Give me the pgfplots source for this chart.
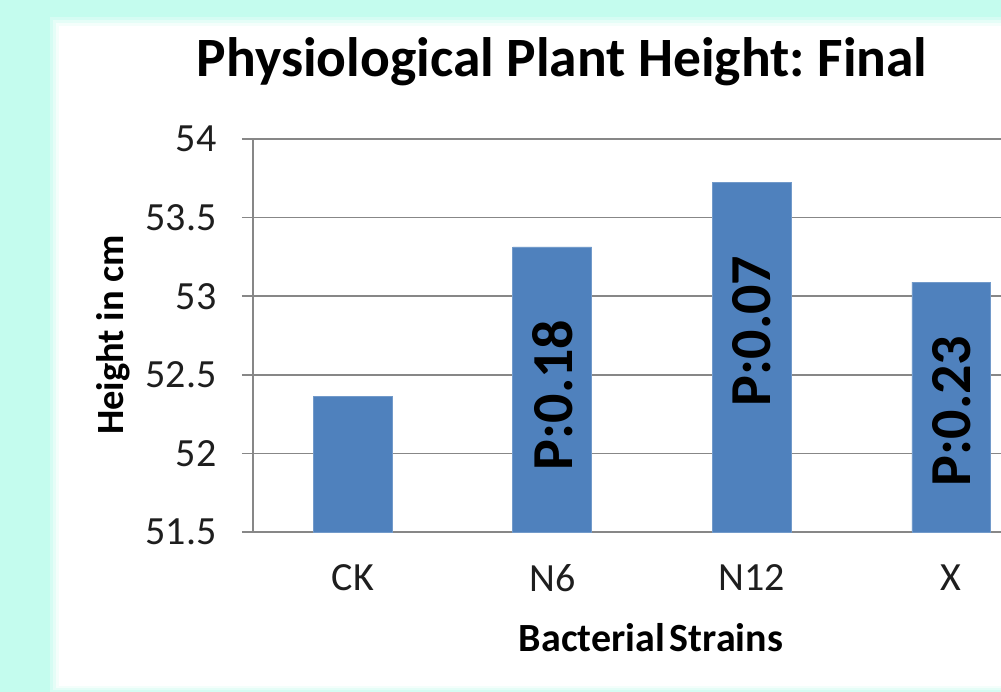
\documentclass[border=0pt]{standalone}
\usepackage{pgfplots}
\pgfplotsset{compat=1.18}
\usepackage{fontspec}
\setmainfont{Carlito}
\frenchspacing
\definecolor{bgcyan}{HTML}{C4FCEE}
\definecolor{barblue}{HTML}{4F81BD}
\definecolor{gridgray}{HTML}{878787}
\definecolor{txt}{HTML}{1E1E1E}
\begin{document}
\begin{tikzpicture}[x=1pt,y=1pt]
\path[use as bounding box, clip] (0,0) rectangle (1001,-692);
\fill[bgcyan] (0,0) rectangle (1001,-692);
\fill[white, opacity=0.3] (50,-17) rectangle (1010,-692);
\fill[white, opacity=0.4] (53,-20) rectangle (1010,-690);
\fill[white, opacity=0.6] (56,-23) rectangle (1010,-688);
\fill[white] (59,-26) rectangle (1010,-686);
\begin{axis}[
  at={(253pt,-532pt)}, anchor=south west,
  scale only axis, width=748pt, height=393pt,
  xmin=-0.5, xmax=3.249, ymin=51.5, ymax=54,
  ytick={51.5,52,52.5,53,53.5,54},
  xtick=data, xticklabels={CK,N6,N12,X},
  axis x line*=bottom, axis y line*=left,
  axis line style={gridgray, line width=1.6pt, -},
  ymajorgrids, grid style={gridgray, line width=1.6pt},
  major y tick style={gridgray, line width=1.6pt},
  major x tick style={draw=none},
  tick align=outside, major tick length=11pt,
  /pgf/number format/assume math mode=true,
  ticklabel style={font=\fontsize{40}{48}\selectfont, text=txt},
  yticklabel style={xshift=-22pt},
  xticklabel style={yshift=-18pt},
  clip=false,
]
\addplot[ybar, bar width=0.395, fill=barblue, draw=barblue!80!white, line width=0.8pt]
  coordinates {(0,52.365) (1,53.313) (2,53.726) (3,53.09)};
\node[rotate=90, font=\bfseries\fontsize{58}{62}\selectfont] at (axis cs:1,52.372) {P:0.18};
\node[rotate=90, font=\bfseries\fontsize{58}{62}\selectfont] at (axis cs:2,52.779) {P:0.07};
\node[rotate=90, font=\bfseries\fontsize{58}{62}\selectfont] at (axis cs:3,52.27) {P:0.23};
\end{axis}
\node[font=\bfseries\fontsize{55.5}{62}\selectfont] at (562,-62) {Physiological Plant Height: Final};
\node[font=\bfseries\fontsize{40}{46}\selectfont] at (651,-638) {Bacterial\hspace{5pt}Strains};
\node[rotate=90, font=\bfseries\fontsize{38.5}{44}\selectfont] at (113,-335) {Height in cm};
\end{tikzpicture}
\end{document}
